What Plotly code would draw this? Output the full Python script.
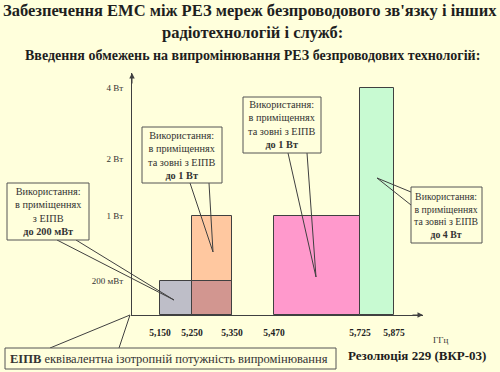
import plotly.graph_objects as go

# ---------------- data ----------------
band_start_mhz = [5150, 5250, 5470, 5725]
band_end_mhz = [5350, 5350, 5725, 5875]
band_power_w = [0.2, 1, 1, 4]
band_colors = ["#BEBEC8", "#FFC8A0", "#FF99CC", "#C8FAD2"]

freq_ticks = [5150, 5250, 5350, 5470, 5725, 5875]
freq_tick_labels = ["5,150", "5,250", "5,350", "5,470", "5,725", "5,875"]
power_ticks = [0.2, 1, 2, 4]
power_tick_labels = ["200 мВт", "1 Вт", "2 Вт", "4 Вт"]

# diagram scales (schematic, non-linear axes of the slide)
freq_scale_in = [5150, 5250, 5350, 5470, 5725, 5875]
freq_scale_out = [28, 60, 100, 142, 228, 262]
power_scale_in = [0, 0.2, 1, 2, 4]
power_scale_out = [0, 34, 99, 156, 227]


def interp(v, xs, ys):
    for i in range(len(xs) - 1):
        if xs[i] <= v <= xs[i + 1]:
            t = (v - xs[i]) / (xs[i + 1] - xs[i])
            return ys[i] + t * (ys[i + 1] - ys[i])
    return ys[-1]


def fx(f):
    return interp(f, freq_scale_in, freq_scale_out)


def fy(p):
    return interp(p, power_scale_in, power_scale_out)


BG = "#FFFFDC"
INK = "#1E1E1E"
LINE = "#404040"
SERIF = "'Liberation Serif', 'Times New Roman', 'DejaVu Serif', serif"

W, H = 500, 372


def px(x):
    return x / W


def py(y):
    return 1 - y / H


fig = go.Figure()

# bars
for s, e, p, c in zip(band_start_mhz, band_end_mhz, band_power_w, band_colors):
    x0, x1 = fx(s), fx(e)
    fig.add_trace(go.Bar(
        x=[(x0 + x1) / 2], y=[fy(p)], width=[x1 - x0], base=[0],
        marker=dict(color=c, line=dict(color=LINE, width=1)),
        hoverinfo="skip", showlegend=False))

# overlap of the first two bands (both allowed) shown in a mixed colour
ov_s = max(band_start_mhz[0], band_start_mhz[1])
ov_e = min(band_end_mhz[0], band_end_mhz[1])
ov_p = min(band_power_w[0], band_power_w[1])
fig.add_trace(go.Bar(
    x=[(fx(ov_s) + fx(ov_e)) / 2], y=[fy(ov_p)], width=[fx(ov_e) - fx(ov_s)], base=[0],
    marker=dict(color="#D29690", line=dict(color=LINE, width=1)),
    hoverinfo="skip", showlegend=False))

shapes = []
annotations = []

# axis arrows
annotations.append(dict(x=291, y=0, xref="x", yref="y", ax=-12, ay=0, text="",
                        showarrow=True, arrowhead=2, arrowsize=1.1, arrowwidth=1,
                        arrowcolor=LINE, standoff=0))
annotations.append(dict(x=0, y=242, xref="x", yref="y", ax=0, ay=12, text="",
                        showarrow=True, arrowhead=2, arrowsize=1.1, arrowwidth=1,
                        arrowcolor=LINE, standoff=0))


def callout(box, text, pts, tip, size=10.3):
    x0, y0, x1, y1 = box
    for (bx, by) in pts:
        shapes.append(dict(type="line", xref="paper", yref="paper",
                           x0=px(bx), y0=py(by), x1=px(tip[0]), y1=py(tip[1]),
                           line=dict(color=LINE, width=1)))
    shapes.append(dict(type="rect", xref="paper", yref="paper",
                       x0=px(x0), y0=py(y0), x1=px(x1), y1=py(y1),
                       fillcolor=BG, line=dict(color="#555555", width=1)))
    annotations.append(dict(x=px((x0 + x1) / 2), y=py((y0 + y1) / 2), xref="paper", yref="paper",
                            text=text, showarrow=False, xanchor="center", yanchor="middle",
                            align="center", font=dict(family=SERIF, size=size, color="#333333")))


callout((7, 183, 89, 240), "Використання:<br>в приміщеннях<br>з ЕІПВ<br><b>до 200 мВт</b>",
        [(57, 240), (76, 240)], (174, 300))
callout((142, 127, 222, 183), "Використання:<br>в приміщеннях<br>та зовні з ЕІПВ<br><b>до 1 Вт</b>",
        [(190, 183), (209, 183)], (213, 252))
callout((243, 97, 321, 153), "Використання:<br>в приміщеннях<br>та зовні з ЕІПВ<br><b>до 1 Вт</b>",
        [(288, 153), (307, 153)], (316, 277))
callout((411, 187, 482, 243), "Використання:<br>в приміщеннях<br>та зовні з ЕІПВ<br><b>до 4 Вт</b>",
        [(411, 192), (411, 205)], (377, 178), size=9.8)

# EIRP note box
for bx in (50, 119):
    shapes.append(dict(type="line", xref="paper", yref="paper",
                       x0=px(bx), y0=py(348), x1=px(130), y1=py(315),
                       line=dict(color=LINE, width=1)))
shapes.append(dict(type="rect", xref="paper", yref="paper",
                   x0=px(5), y0=py(348), x1=px(336), y1=py(369),
                   fillcolor=BG, line=dict(color="#555555", width=1)))
annotations.append(dict(x=px(8), y=py(358.5), xref="paper", yref="paper", xanchor="left",
                        yanchor="middle", showarrow=False,
                        text="<b>ЕІПВ</b> еквівалентна ізотропній потужність випромінювання",
                        font=dict(family=SERIF, size=12.5, color="#333333")))

# titles
annotations.append(dict(x=0.5, y=py(11), xref="paper", yref="paper", showarrow=False,
                        xanchor="center", yanchor="middle",
                        text="<b>Забезпечення ЕМС між РЕЗ мереж безпроводового зв'язку і інших</b>",
                        font=dict(family=SERIF, size=16.5, color=INK)))
annotations.append(dict(x=px(252), y=py(32), xref="paper", yref="paper", showarrow=False,
                        xanchor="center", yanchor="middle",
                        text="<b>радіотехнологій і служб:</b>",
                        font=dict(family=SERIF, size=16.5, color=INK)))
annotations.append(dict(x=px(252), y=py(56), xref="paper", yref="paper", showarrow=False,
                        xanchor="center", yanchor="middle",
                        text="<b>Введення обмежень на випромінювання РЕЗ безпроводових технологій:</b>",
                        font=dict(family=SERIF, size=14, color=INK)))
annotations.append(dict(x=px(417), y=py(355), xref="paper", yref="paper", showarrow=False,
                        xanchor="center", yanchor="middle",
                        text="<b>Резолюція 229 (ВКР-03)</b>",
                        font=dict(family=SERIF, size=13, color=INK)))
annotations.append(dict(x=px(440), y=py(340), xref="paper", yref="paper", showarrow=False,
                        xanchor="center", yanchor="middle", text="ГГц",
                        font=dict(family=SERIF, size=9, color="#333333")))

fig.update_layout(
    width=W, height=H,
    margin=dict(l=0, r=0, t=0, b=0),
    paper_bgcolor=BG, plot_bgcolor=BG,
    font=dict(family=SERIF),
    barmode="overlay", bargap=0,
    shapes=shapes, annotations=annotations,
    xaxis=dict(domain=[132 / W, 423 / W], range=[0, 291], showgrid=False, zeroline=False,
               showline=True, linecolor=LINE, linewidth=1, fixedrange=True,
               tickmode="array", tickvals=[fx(f) for f in freq_ticks], ticktext=freq_tick_labels,
               ticks="", ticklabelstandoff=9,
               tickfont=dict(family=SERIF, size=9.5, color="#222222", weight="bold")),
    yaxis=dict(domain=[1 - 315 / H, 1 - 73 / H], range=[0, 242], showgrid=False, zeroline=False,
               showline=True, linecolor=LINE, linewidth=1, fixedrange=True,
               tickmode="array", tickvals=[fy(p) for p in power_ticks], ticktext=power_tick_labels,
               ticks="", ticklabelstandoff=6,
               tickfont=dict(family=SERIF, size=9, color="#333333")),
)

fig.write_html("out.html", config={"displayModeBar": False},
               post_script="document.body.style.margin='0';document.body.style.overflow='hidden';document.body.style.background='" + BG + "';")
